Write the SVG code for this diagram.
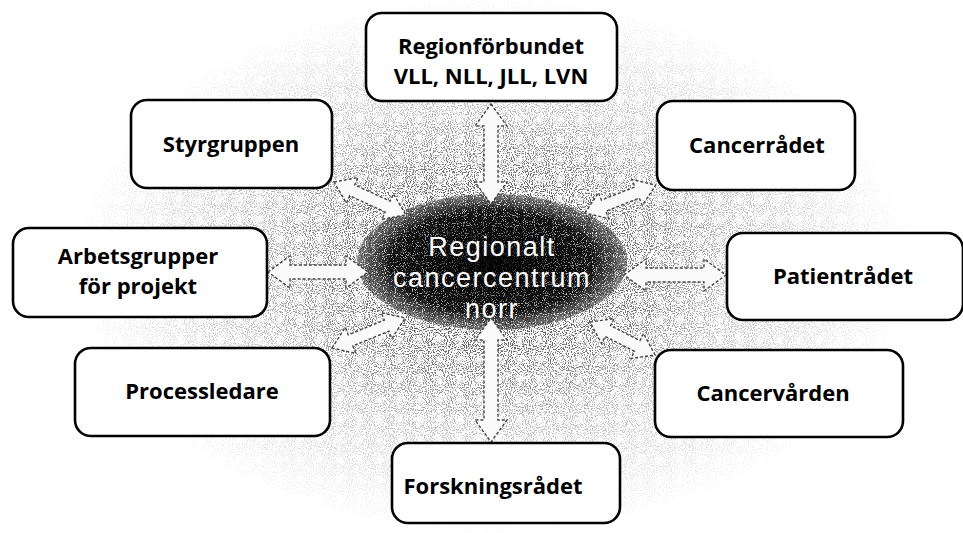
<svg xmlns="http://www.w3.org/2000/svg" width="963" height="533" viewBox="0 0 963 533">
<defs>
<style>
.box{fill:#fff;stroke:#000;stroke-width:2.6}
.lbl{font-family:"Open Sans","DejaVu Sans",sans-serif;font-weight:bold;font-size:22px;fill:#000;text-anchor:middle}
.ctr{font-family:"Liberation Sans","Open Sans",sans-serif;font-size:27px;letter-spacing:1.5px;fill:#fff;text-anchor:middle}
.arr{fill:#fafafa;stroke:#444;stroke-width:1.4;stroke-dasharray:3 2}
</style>
<filter id="grain" x="0" y="0" width="100%" height="100%">
<feTurbulence type="fractalNoise" baseFrequency="0.95" numOctaves="1" seed="4" result="n"/>
<feColorMatrix in="n" type="matrix" values="0 0 0 0 0  0 0 0 0 0  0 0 0 0 0  9 0 0 0 -4.6" result="d"/>
<feComposite in="d" in2="SourceGraphic" operator="in"/>
</filter>
<filter id="wgrain" x="0" y="0" width="100%" height="100%">
<feTurbulence type="fractalNoise" baseFrequency="0.9" numOctaves="1" seed="9" result="n"/>
<feColorMatrix in="n" type="matrix" values="0 0 0 0 1  0 0 0 0 1  0 0 0 0 1  9 0 0 0 -5" result="d"/>
<feComposite in="d" in2="SourceGraphic" operator="in"/>
</filter>
<radialGradient id="bg" cx="0.5" cy="0.5" r="0.5">
<stop offset="0" stop-color="#000" stop-opacity="0.6"/>
<stop offset="0.55" stop-color="#000" stop-opacity="0.3"/>
<stop offset="1" stop-color="#000" stop-opacity="0"/>
</radialGradient>
<radialGradient id="core" cx="0.5" cy="0.5" r="0.5">
<stop offset="0" stop-color="#000"/>
<stop offset="0.75" stop-color="#111"/>
<stop offset="1" stop-color="#333" stop-opacity="0.6"/>
</radialGradient>
<radialGradient id="spk" cx="0.5" cy="0.5" r="0.5">
<stop offset="0" stop-color="#fff" stop-opacity="0.1"/>
<stop offset="1" stop-color="#fff" stop-opacity="0.9"/>
</radialGradient>
</defs>
<rect width="963" height="533" fill="#fff"/>
<g id="background">
<ellipse cx="492" cy="265" rx="420" ry="270" fill="url(#bg)" filter="url(#grain)"/>
<ellipse cx="492" cy="265" rx="240" ry="160" fill="url(#bg)" filter="url(#grain)"/>
</g>
<g id="center">
<ellipse cx="492" cy="262" rx="135" ry="68" fill="url(#core)"/>
<ellipse cx="492" cy="262" rx="135" ry="68" fill="url(#spk)" filter="url(#wgrain)"/>
<text class="ctr" x="492" y="256">Regionalt</text>
<text class="ctr" x="492" y="287">cancercentrum</text>
<text class="ctr" x="492" y="318">norr</text>
</g>
<g id="connectors">
<path class="arr" transform="translate(491,104) rotate(90)" d="M0,0 L22,-16 L22,-7 L78,-7 L78,-16 L100,0 L78,16 L78,7 L22,7 L22,16 Z"/>
<path class="arr" transform="translate(491,318) rotate(90)" d="M0,0 L22,-16 L22,-7 L102,-7 L102,-16 L124,0 L102,16 L102,7 L22,7 L22,16 Z"/>
<path class="arr" transform="translate(268,272)" d="M0,0 L22,-16 L22,-7 L78,-7 L78,-16 L100,0 L78,16 L78,7 L22,7 L22,16 Z"/>
<path class="arr" transform="translate(624,275)" d="M0,0 L22,-16 L22,-7 L80,-7 L80,-16 L102,0 L80,16 L80,7 L22,7 L22,16 Z"/>
<path class="arr" transform="translate(334,182) rotate(24.6)" d="M0,0 L20,-14 L20,-6 L59,-6 L59,-14 L79,0 L59,14 L59,6 L20,6 L20,14 Z"/>
<path class="arr" transform="translate(585,213) rotate(-21.5)" d="M0,0 L20,-14 L20,-6 L56,-6 L56,-14 L76,0 L56,14 L56,6 L20,6 L20,14 Z"/>
<path class="arr" transform="translate(332,348) rotate(-22.3)" d="M0,0 L20,-14 L20,-6 L59,-6 L59,-14 L79,0 L59,14 L59,6 L20,6 L20,14 Z"/>
<path class="arr" transform="translate(590,322) rotate(26.9)" d="M0,0 L20,-14 L20,-6 L53,-6 L53,-14 L73,0 L53,14 L53,6 L20,6 L20,14 Z"/>
</g>
<g id="regionforbundet">
<rect class="box" x="366" y="13" width="251" height="88" rx="16"/>
<text class="lbl" x="491" y="54">Regionförbundet</text>
<text class="lbl" x="491" y="84">VLL, NLL, JLL, LVN</text>
</g>
<g id="styrgruppen">
<rect class="box" x="131" y="100" width="201" height="88" rx="16"/>
<text class="lbl" x="231" y="152">Styrgruppen</text>
</g>
<g id="cancerradet">
<rect class="box" x="657" y="101" width="198" height="89" rx="16"/>
<text class="lbl" x="757" y="153">Cancerrådet</text>
</g>
<g id="arbetsgrupper">
<rect class="box" x="13" y="228" width="254" height="89" rx="16"/>
<text class="lbl" x="138" y="264">Arbetsgrupper</text>
<text class="lbl" x="138" y="294">för projekt</text>
</g>
<g id="patientradet">
<rect class="box" x="727" y="233" width="236" height="87" rx="16"/>
<text class="lbl" x="843" y="284">Patientrådet</text>
</g>
<g id="processledare">
<rect class="box" x="75" y="348" width="255" height="88" rx="16"/>
<text class="lbl" x="202" y="399">Processledare</text>
</g>
<g id="cancervarden">
<rect class="box" x="655" y="350" width="248" height="87" rx="16"/>
<text class="lbl" x="773" y="401">Cancervården</text>
</g>
<g id="forskningsradet">
<rect class="box" x="392" y="443" width="228" height="80" rx="16"/>
<text class="lbl" x="493" y="494">Forskningsrådet</text>
</g>
</svg>
